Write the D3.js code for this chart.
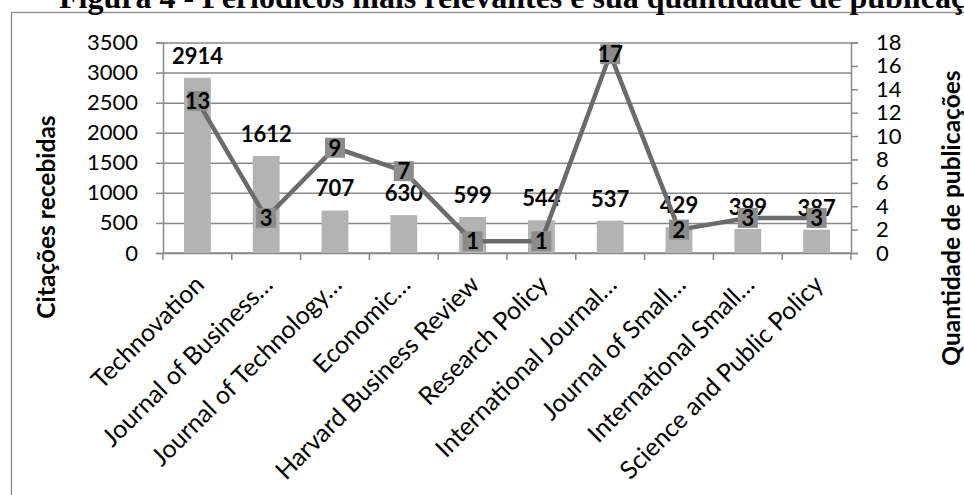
<!DOCTYPE html>
<html>
<head>
<meta charset="utf-8">
<script src="https://cdn.jsdelivr.net/npm/d3@7"></script>
<style>
  body { margin: 0; background: #fff; }
  svg { display: block; }
  text { font-family: Lato, "Open Sans", sans-serif; }
</style>
</head>
<body>
<div id="chart"></div>
<script>
// data
const journals = [
  "Technovation",
  "Journal of Business…",
  "Journal of Technology…",
  "Economic…",
  "Harvard Business Review",
  "Research Policy",
  "International Journal…",
  "Journal of Small…",
  "International Small…",
  "Science and Public Policy"
];
const citations = [2914, 1612, 707, 630, 599, 544, 537, 429, 399, 387];
const publications = [13, 3, 9, 7, 1, 1, 17, 2, 3, 3];
const leftTicks = [0, 500, 1000, 1500, 2000, 2500, 3000, 3500];
const rightTicks = [0, 2, 4, 6, 8, 10, 12, 14, 16, 18];

const width = 964;
const height = 495;
const margin = {top: 42.5, right: 113, bottom: 242, left: 163};

const rows = journals.map((j, i) => ({name: j, cit: citations[i], pub: publications[i]}));

const svg = d3.select("#chart")
  .append("svg")
  .attr("width", width)
  .attr("height", height);

// outer chart frame (right and bottom edges fall outside the window)
svg.append("rect")
  .attr("x", 11.5)
  .attr("y", 12.5)
  .attr("width", 1000)
  .attr("height", 600)
  .attr("fill", "none")
  .attr("stroke", "#888")
  .attr("stroke-width", 1.3)

// title, cut off at the top like the original
svg.append("text")
  .attr("x", 59)
  .attr("y", 8)
  .style("font-family", "'Liberation Serif', 'Times New Roman', serif")
  .attr("font-weight", "bold")
  .attr("font-size", 32)
  .text("Figura 4 - Periódicos mais relevantes e sua quantidade de publicações")

// scales
const xScale = d3.scaleBand()
  .domain(journals)
  .range([margin.left, width - margin.right])

const yLeft = d3.scaleLinear()
  .domain([0, 3500])
  .range([height - margin.bottom, margin.top])

const yRight = d3.scaleLinear()
  .domain([0, 18])
  .range([height - margin.bottom, margin.top])

const plotW = width - margin.right - margin.left;
const baseY = height - margin.bottom;
const axisGray = "#898989";

// gridlines
svg.append("g")
  .attr("class", "grid")
  .attr("transform", `translate(${margin.left}, 0)`)
  .call(d3.axisLeft(yLeft).tickValues(leftTicks).tickSize(-plotW).tickFormat(""))
  .call(g => g.select(".domain").remove())
  .call(g => g.selectAll("line").attr("stroke", axisGray).attr("stroke-width", 1.5))

// left axis
svg.append("g")
  .attr("transform", `translate(${margin.left}, 0)`)
  .call(d3.axisLeft(yLeft).tickValues(leftTicks).tickSize(7).tickPadding(18).tickFormat(d3.format("d")))
  .call(g => g.select(".domain").attr("stroke", axisGray).attr("stroke-width", 1.5))
  .call(g => g.selectAll("line").attr("stroke", axisGray).attr("stroke-width", 1.5))
  .call(g => g.selectAll("text").attr("font-size", 22).attr("fill", "#000")
    .style("font-family", "Lato, sans-serif"))

// right axis
svg.append("g")
  .attr("transform", `translate(${width - margin.right}, 0)`)
  .call(d3.axisRight(yRight).tickValues(rightTicks).tickSize(7).tickPadding(18).tickFormat(d3.format("d")))
  .call(g => g.select(".domain").attr("stroke", axisGray).attr("stroke-width", 1.5))
  .call(g => g.selectAll("line").attr("stroke", axisGray).attr("stroke-width", 1.5))
  .call(g => g.selectAll("text").attr("font-size", 22).attr("fill", "#000")
    .style("font-family", "Lato, sans-serif"))

// bottom axis: tick marks at the band edges
const edges = journals.map(d => xScale(d)).concat([xScale(journals[journals.length - 1]) + xScale.bandwidth()]);
svg.append("g")
  .selectAll("line")
  .data(edges)
  .join("line")
  .attr("x1", d => d)
  .attr("x2", d => d)
  .attr("y1", baseY)
  .attr("y2", baseY + 7)
  .attr("stroke", axisGray)
  .attr("stroke-width", 1.5)

svg.append("line")
  .attr("x1", margin.left)
  .attr("x2", width - margin.right)
  .attr("y1", baseY)
  .attr("y2", baseY)
  .attr("stroke", axisGray)
  .attr("stroke-width", 1.5)

// rotated category labels
svg.append("g")
  .selectAll("text")
  .data(journals)
  .join("text")
  .attr("transform", d => `translate(${xScale(d) + xScale.bandwidth() / 2 + 2}, ${baseY + 27}) rotate(-45)`)
  .attr("text-anchor", "end")
  .attr("dy", "0.35em")
  .attr("font-size", 25)
  .attr("fill", "#000")
  .text(d => d)

// bars
const barW = xScale.bandwidth() * 0.39;
svg.append("g")
  .selectAll("rect")
  .data(rows)
  .join("rect")
  .attr("x", d => xScale(d.name) + (xScale.bandwidth() - barW) / 2)
  .attr("y", d => yLeft(d.cit))
  .attr("width", barW)
  .attr("height", d => baseY - yLeft(d.cit))
  .attr("fill", "#b3b3b3")

// bar value labels
svg.append("g")
  .selectAll("text")
  .data(rows)
  .join("text")
  .attr("x", d => xScale(d.name) + xScale.bandwidth() / 2)
  .attr("y", d => yLeft(d.cit) - 14)
  .attr("text-anchor", "middle")
  .attr("font-size", 22)
  .attr("font-weight", "bold")
  .attr("fill", "#000")
  .text(d => d.cit)

// publications line
const line = d3.line()
  .x(d => xScale(d.name) + xScale.bandwidth() / 2)
  .y(d => yRight(d.pub))

svg.append("path")
  .datum(rows)
  .attr("d", line)
  .attr("fill", "none")
  .attr("stroke", "#6b6b6b")
  .attr("stroke-width", 4.5)
  .attr("stroke-linejoin", "round")

const mk = 20;
svg.append("g")
  .selectAll("rect")
  .data(rows)
  .join("rect")
  .attr("x", d => xScale(d.name) + xScale.bandwidth() / 2 - mk / 2)
  .attr("y", d => yRight(d.pub) - mk / 2)
  .attr("width", mk)
  .attr("height", mk)
  .attr("fill", "#8c8c8c")

svg.append("g")
  .selectAll("text")
  .data(rows)
  .join("text")
  .attr("x", d => xScale(d.name) + xScale.bandwidth() / 2)
  .attr("y", d => yRight(d.pub))
  .attr("dy", "0.36em")
  .attr("text-anchor", "middle")
  .attr("font-size", 22)
  .attr("font-weight", "bold")
  .attr("fill", "#000")
  .text(d => d.pub)

// axis titles
svg.append("text")
  .attr("transform", `translate(${46}, ${217}) rotate(-90)`)
  .attr("text-anchor", "middle")
  .attr("dy", "0.35em")
  .attr("font-size", 24.5)
  .attr("font-weight", "bold")
  .attr("fill", "#000")
  .text("Citações recebidas")

svg.append("text")
  .attr("transform", `translate(${951}, ${218}) rotate(-90)`)
  .attr("text-anchor", "middle")
  .attr("dy", "0.35em")
  .attr("font-size", 24.5)
  .attr("font-weight", "bold")
  .attr("fill", "#000")
  .text("Quantidade de publicações")
</script>
</body>
</html>
